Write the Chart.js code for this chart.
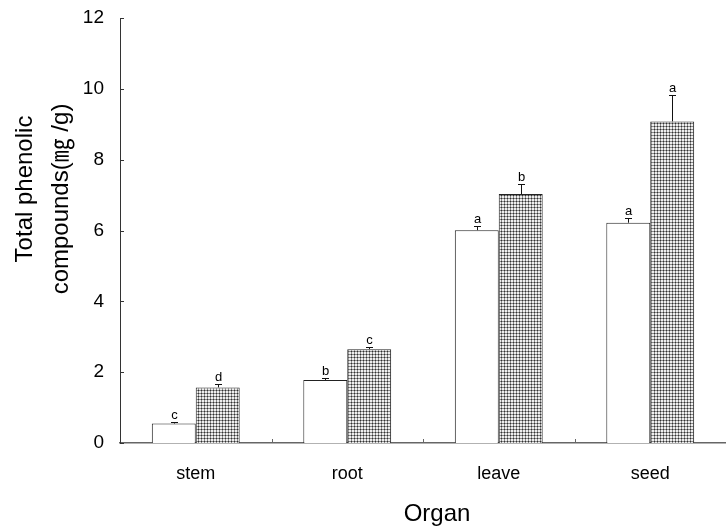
<!DOCTYPE html>
<html>
<head>
<meta charset="utf-8">
<script src="https://cdn.jsdelivr.net/npm/chart.js@4/dist/chart.umd.min.js"></script>
<style>
  html, body { margin: 0; padding: 0; background: #ffffff; }
  #wrap { width: 726px; height: 528px; }
</style>
</head>
<body>
<div id="wrap"><canvas id="c" width="726" height="528"></canvas></div>
<script>
// Total phenolic compounds (mg/g) by organ, two treatments
const organs = ['stem', 'root', 'leave', 'seed'];
const seriesA = [0.55, 1.78, 6.01, 6.22];   // open bars
const seriesB = [1.57, 2.65, 7.03, 9.08];   // dotted bars
const errA = [0.03, 0.06, 0.12, 0.14];
const errB = [0.09, 0.06, 0.29, 0.75];
const lettersA = ['c', 'b', 'a', 'a'];
const lettersB = ['d', 'c', 'b', 'a'];
const yTicks = [0, 2, 4, 6, 8, 10, 12];
const yTitleLines = ['Total phenolic', 'compounds(\u338E /g)'];
const xTitle = 'Organ';

const FONT = '"Liberation Sans", Arial, "Noto Sans CJK KR", sans-serif';

// fine dot screen used to fill the second series
function dotPattern(ctx) {
  const t = document.createElement('canvas');
  t.width = 3; t.height = 3;
  const g = t.getContext('2d');
  g.fillStyle = '#eeeeee'; g.fillRect(0, 0, 3, 3);
  g.fillStyle = '#8a8a8a'; g.fillRect(0, 0, 3, 1); g.fillRect(0, 0, 1, 3);
  g.fillStyle = '#303030'; g.fillRect(0, 0, 1, 1);
  return ctx.createPattern(t, 'repeat');
}

const overlay = {
  id: 'overlay',
  afterDatasetsDraw(chart) {
    const { ctx, scales: { x, y }, chartArea } = chart;
    ctx.save();
    // error bars (upper half) and significance letters
    [[0, errA, lettersA], [1, errB, lettersB]].forEach(([di, err, lab]) => {
      const meta = chart.getDatasetMeta(di);
      const vals = chart.data.datasets[di].data;
      meta.data.forEach((bar, i) => {
        const cx = Math.round(bar.x) + 0.5;
        const top = y.getPixelForValue(vals[i]);
        const capY = Math.round(y.getPixelForValue(vals[i] + err[i])) + 0.5;
        ctx.strokeStyle = '#111';
        ctx.lineWidth = 1;
        ctx.beginPath();
        ctx.moveTo(cx, top);
        ctx.lineTo(cx, capY);
        ctx.moveTo(cx - 3.5, capY);
        ctx.lineTo(cx + 3.5, capY);
        ctx.stroke();
        ctx.fillStyle = '#000';
        ctx.font = '13px ' + FONT;
        ctx.textAlign = 'center';
        ctx.textBaseline = 'alphabetic';
        ctx.fillText(lab[i], cx, capY - 4);
      });
    });
    // inward tick marks on the value axis
    ctx.strokeStyle = '#333';
    ctx.lineWidth = 1;
    yTicks.forEach(v => {
      const py = Math.round(y.getPixelForValue(v)) + 0.5;
      ctx.beginPath();
      ctx.moveTo(chartArea.left, py);
      ctx.lineTo(chartArea.left + 4, py);
      ctx.stroke();
    });
    // small separators between organ groups
    ctx.strokeStyle = '#666';
    for (let i = 0; i < organs.length - 1; i++) {
      const px = Math.round((x.getPixelForValue(i) + x.getPixelForValue(i + 1)) / 2) + 0.5;
      ctx.beginPath();
      ctx.moveTo(px, chartArea.bottom);
      ctx.lineTo(px, chartArea.bottom - 4);
      ctx.stroke();
    }
    ctx.restore();
  },
  afterDraw(chart) {
    const { ctx } = chart;
    ctx.save();
    ctx.fillStyle = '#000';
    ctx.textAlign = 'center';
    ctx.textBaseline = 'middle';
    ctx.font = '24px ' + FONT;
    const centers = [[25, 189], [61, 199]];
    yTitleLines.forEach((t, i) => {
      ctx.save();
      ctx.translate(centers[i][0], centers[i][1]);
      ctx.rotate(-Math.PI / 2);
      ctx.fillText(t, 0, 0);
      ctx.restore();
    });
    ctx.font = '24px ' + FONT;
    ctx.fillText(xTitle, 437, 514);
    ctx.restore();
  }
};

const canvas = document.getElementById('c');
const ctx2d = canvas.getContext('2d');

new Chart(canvas, {
  type: 'bar',
  data: {
    labels: organs,
    datasets: [
      {
        data: seriesA,
        backgroundColor: '#ffffff',
        borderColor: '#222222',
        borderWidth: 1,
        categoryPercentage: 0.58,
        barPercentage: 1.0
      },
      {
        data: seriesB,
        backgroundColor: dotPattern(ctx2d),
        borderColor: '#222222',
        borderWidth: 1,
        categoryPercentage: 0.58,
        barPercentage: 1.0
      }
    ]
  },
  options: {
    responsive: false,
    animation: false,
    devicePixelRatio: 1,
    layout: { padding: { top: 18, right: 0, bottom: 0, left: 0 } },
    plugins: { legend: { display: false }, tooltip: { enabled: false } },
    scales: {
      x: {
        offset: true,
        grid: { display: false, drawTicks: false },
        border: { color: '#666666', width: 1.5 },
        ticks: { color: '#000', font: { family: FONT, size: 18 }, padding: 20 },
        afterFit(s) { s.height = 85; }
      },
      y: {
        min: 0,
        max: 12,
        afterBuildTicks(s) { s.ticks = yTicks.map(v => ({ value: v })); },
        grid: { display: false, drawTicks: false },
        border: { color: '#333333', width: 1 },
        ticks: { color: '#000', font: { family: FONT, size: 19, lineHeight: 0.1 }, padding: 16 },
        afterFit(s) { s.width = 120; }
      }
    }
  },
  plugins: [overlay]
});
</script>
</body>
</html>
